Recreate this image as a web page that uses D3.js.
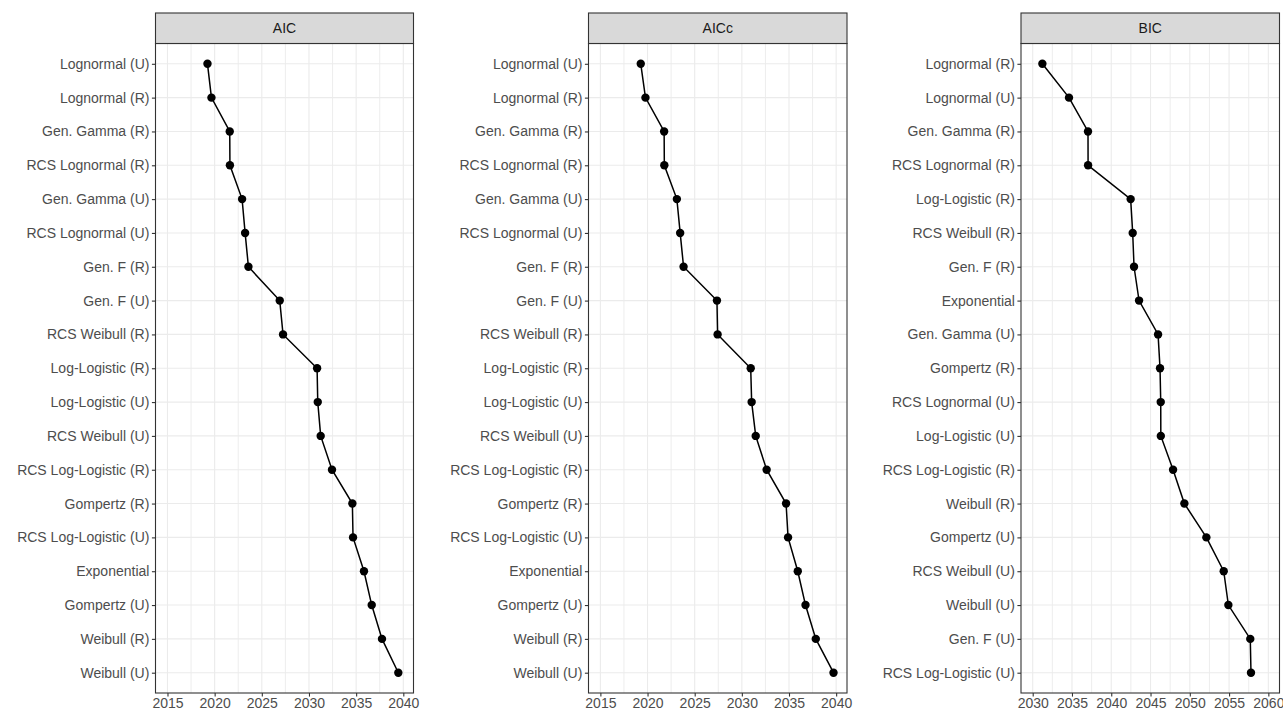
<!DOCTYPE html>
<html>
<head>
<meta charset="utf-8">
<script src="https://cdn.jsdelivr.net/npm/d3@7"></script>
<style>
  html, body { margin: 0; padding: 0; background: #ffffff; }
  svg { display: block; font-family: "Liberation Sans", Arial, sans-serif; }
</style>
</head>
<body>
<svg id="chart" width="1283" height="711"></svg>
<script>
// ---------------- DATA ----------------
const panelTitles = ["AIC", "AICc", "BIC"];

const aicModels = ["Lognormal (U)", "Lognormal (R)", "Gen. Gamma (R)", "RCS Lognormal (R)", "Gen. Gamma (U)",
  "RCS Lognormal (U)", "Gen. F (R)", "Gen. F (U)", "RCS Weibull (R)", "Log-Logistic (R)", "Log-Logistic (U)",
  "RCS Weibull (U)", "RCS Log-Logistic (R)", "Gompertz (R)", "RCS Log-Logistic (U)", "Exponential",
  "Gompertz (U)", "Weibull (R)", "Weibull (U)"];
const aicValues = [2019.24, 2019.66, 2021.60, 2021.62, 2022.91, 2023.23, 2023.58, 2026.90, 2027.25, 2030.86,
  2030.93, 2031.24, 2032.44, 2034.60, 2034.67, 2035.83, 2036.65, 2037.74, 2039.47];

const aiccModels = ["Lognormal (U)", "Lognormal (R)", "Gen. Gamma (R)", "RCS Lognormal (R)", "Gen. Gamma (U)",
  "RCS Lognormal (U)", "Gen. F (R)", "Gen. F (U)", "RCS Weibull (R)", "Log-Logistic (R)", "Log-Logistic (U)",
  "RCS Weibull (U)", "RCS Log-Logistic (R)", "Gompertz (R)", "RCS Log-Logistic (U)", "Exponential",
  "Gompertz (U)", "Weibull (R)", "Weibull (U)"];
const aiccValues = [2019.28, 2019.78, 2021.76, 2021.78, 2023.11, 2023.46, 2023.82, 2027.36, 2027.43, 2030.94,
  2031.04, 2031.47, 2032.63, 2034.69, 2034.90, 2035.93, 2036.75, 2037.84, 2039.72];

const bicModels = ["Lognormal (R)", "Lognormal (U)", "Gen. Gamma (R)", "RCS Lognormal (R)", "Log-Logistic (R)",
  "RCS Weibull (R)", "Gen. F (R)", "Exponential", "Gen. Gamma (U)", "Gompertz (R)", "RCS Lognormal (U)",
  "Log-Logistic (U)", "RCS Log-Logistic (R)", "Weibull (R)", "Gompertz (U)", "RCS Weibull (U)",
  "Weibull (U)", "Gen. F (U)", "RCS Log-Logistic (U)"];
const bicValues = [2031.23, 2034.62, 2037.04, 2037.05, 2042.47, 2042.73, 2042.90, 2043.54, 2045.96, 2046.21,
  2046.30, 2046.31, 2047.87, 2049.31, 2052.11, 2054.32, 2054.91, 2057.70, 2057.79];

const xTicksAIC = [2015, 2020, 2025, 2030, 2035, 2040];
const xTicksBIC = [2030, 2035, 2040, 2045, 2050, 2055, 2060];
const xDomainAIC = [2013.73, 2041.08];
const xDomainAICc = [2013.74, 2041.15];
const xDomainBIC = [2028.51, 2061.42];

// ---------------- LAYOUT ----------------
const svg = d3.select("#chart");
const panelTop = 43.5, panelBottom = 693, stripTop = 13;
const panels = [
  { title: panelTitles[0], models: aicModels, values: aicValues, ticks: xTicksAIC, domain: xDomainAIC, x0: 155.5, x1: 413.5 },
  { title: panelTitles[1], models: aiccModels, values: aiccValues, ticks: xTicksAIC, domain: xDomainAICc, x0: 588.5, x1: 847 },
  { title: panelTitles[2], models: bicModels, values: bicValues, ticks: xTicksBIC, domain: xDomainBIC, x0: 1021, x1: 1279.5 }
];

panels.forEach(p => {
  const g = svg.append("g");
  const x = d3.scaleLinear().domain(p.domain).range([p.x0, p.x1]);
  const y = d3.scalePoint().domain(p.models).range([panelTop, panelBottom]).padding(0.6);

  g.append("rect").attr("x", p.x0).attr("y", panelTop).attr("width", p.x1 - p.x0)
    .attr("height", panelBottom - panelTop).attr("fill", "#ffffff");

  // minor gridlines (midpoints between major ticks)
  const step = p.ticks[1] - p.ticks[0];
  const minor = [];
  for (let v = p.ticks[0] - step / 2; v <= p.domain[1]; v += step) {
    if (v >= p.domain[0] && !p.ticks.includes(v)) minor.push(v);
  }
  g.selectAll(".minor").data(minor).enter().append("line")
    .attr("x1", d => x(d)).attr("x2", d => x(d))
    .attr("y1", panelTop).attr("y2", panelBottom)
    .attr("stroke", "#ebebeb").attr("stroke-width", 0.9);

  g.selectAll(".vmajor").data(p.ticks).enter().append("line")
    .attr("x1", d => x(d)).attr("x2", d => x(d))
    .attr("y1", panelTop).attr("y2", panelBottom)
    .attr("stroke", "#ebebeb").attr("stroke-width", 1.1);

  g.selectAll(".hmajor").data(p.models).enter().append("line")
    .attr("x1", p.x0).attr("x2", p.x1)
    .attr("y1", d => y(d)).attr("y2", d => y(d))
    .attr("stroke", "#ebebeb").attr("stroke-width", 1.1);

  const pts = p.models.map((m, i) => [x(p.values[i]), y(m)]);
  g.append("path").attr("d", d3.line()(pts))
    .attr("fill", "none").attr("stroke", "#000000").attr("stroke-width", 1.5);

  g.selectAll(".pt").data(p.models).enter().append("circle")
    .attr("cx", (d, i) => x(p.values[i])).attr("cy", d => y(d))
    .attr("r", 4.2).attr("fill", "#000000");

  g.append("rect").attr("x", p.x0).attr("y", panelTop).attr("width", p.x1 - p.x0)
    .attr("height", panelBottom - panelTop).attr("fill", "none")
    .attr("stroke", "#333333").attr("stroke-width", 1.1);

  g.append("rect").attr("x", p.x0).attr("y", stripTop).attr("width", p.x1 - p.x0)
    .attr("height", panelTop - stripTop).attr("fill", "#d9d9d9")
    .attr("stroke", "#333333").attr("stroke-width", 1.1);
  g.append("text").attr("x", (p.x0 + p.x1) / 2).attr("y", (stripTop + panelTop) / 2)
    .attr("dy", "0.35em").attr("text-anchor", "middle")
    .attr("font-size", 14).attr("fill", "#1a1a1a").text(p.title);

  const xAxis = d3.axisBottom(x).tickValues(p.ticks).tickFormat(d3.format("d"))
    .tickSize(3.6).tickPadding(1.2);
  const xa = g.append("g").attr("transform", `translate(0,${panelBottom})`).call(xAxis);
  xa.select(".domain").remove();
  xa.selectAll(".tick line").attr("stroke", "#333333").attr("stroke-width", 1.1);
  xa.selectAll(".tick text").attr("fill", "#4d4d4d").attr("font-size", 14)
    .attr("font-family", "'Liberation Sans', Arial, sans-serif");

  const yAxis = d3.axisLeft(y).tickSize(3.6).tickPadding(2.5);
  const ya = g.append("g").attr("transform", `translate(${p.x0},0)`).call(yAxis);
  ya.select(".domain").remove();
  ya.selectAll(".tick line").attr("stroke", "#333333").attr("stroke-width", 1.1);
  ya.selectAll(".tick text").attr("fill", "#4d4d4d").attr("font-size", 14)
    .attr("font-family", "'Liberation Sans', Arial, sans-serif");
});
</script>
</body>
</html>
